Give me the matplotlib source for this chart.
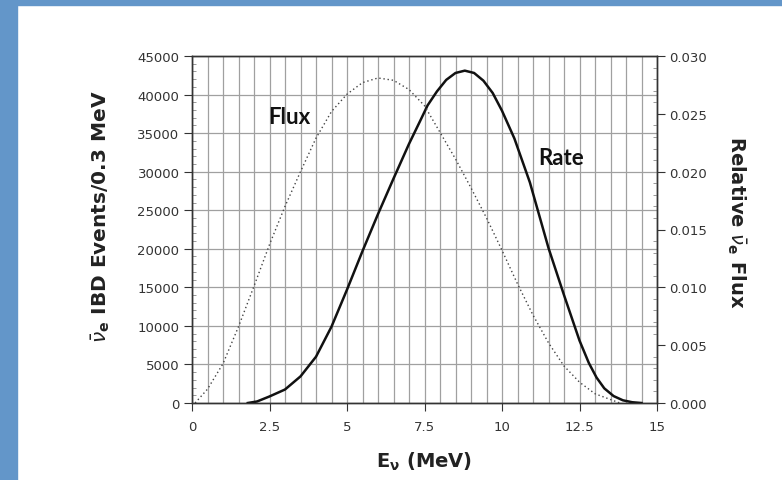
import matplotlib
matplotlib.use("Agg")
import matplotlib.pyplot as plt
from matplotlib.patches import Rectangle
from matplotlib.ticker import MultipleLocator

plt.rcParams['mathtext.fontset'] = 'dejavusans'

rate_E = [1.8, 2.1, 2.5, 3.0, 3.5, 4.0, 4.5, 5.0, 5.5, 6.0, 6.5, 7.0, 7.35, 7.6, 7.9,
          8.2, 8.5, 8.8, 9.1, 9.4, 9.7, 10.0, 10.4, 10.9, 11.5, 12.0, 12.5, 12.8,
          13.05, 13.3, 13.6, 13.9, 14.2, 14.5]
rate_val = [0, 200, 850, 1750, 3450, 6000, 9900, 14700, 19700, 24500, 29100, 33600, 36500, 38600, 40400,
            41900, 42800, 43100, 42800, 41800, 40200, 37900, 34300, 28600, 20100, 14000, 8100, 5200,
            3300, 1900, 900, 350, 100, 0]

flux_E = [0.1, 0.5, 1.0, 1.5, 2.0, 2.5, 3.0, 3.5, 4.0, 4.5, 5.0, 5.5, 6.0, 6.5, 7.0,
          7.5, 8.0, 8.5, 9.0, 9.5, 10.0, 10.5, 11.0, 11.5, 12.0, 12.5, 13.0, 13.5, 13.8]
flux_val = [0.0, 0.0012, 0.0034, 0.0066, 0.0101, 0.0137, 0.0170, 0.0200, 0.0229, 0.0252, 0.0267,
            0.0277, 0.0281, 0.0279, 0.0271, 0.0257, 0.0234, 0.0211, 0.0186, 0.0160, 0.0132,
            0.0103, 0.0076, 0.0052, 0.0032, 0.0018, 0.0008, 0.0003, 0.0]

x_ticks = [0, 2.5, 5, 7.5, 10, 12.5, 15]
x_tick_labels = ['0', '2.5', '5', '7.5', '10', '12.5', '15']
left_ticks = list(range(0, 45001, 5000))
right_ticks = [0.000, 0.005, 0.010, 0.015, 0.020, 0.025, 0.030]

fig = plt.figure(figsize=(7.82, 4.81), dpi=100)
blue = '#6396c9'
fig.patches.append(Rectangle((0, 1 - 6/481), 1, 6/481, transform=fig.transFigure, color=blue, zorder=0))
fig.patches.append(Rectangle((0, 0), 17/782, 1, transform=fig.transFigure, color=blue, zorder=0))

ax = fig.add_axes([192/782, 1 - 404/481, 465/782, 347/481])
ax2 = ax.twinx()

ax.set_xlim(0, 15)
ax.set_ylim(0, 45000)
ax2.set_ylim(0, 0.030)

ax.xaxis.set_minor_locator(MultipleLocator(0.5))
ax.set_xticks(x_ticks)
ax.set_xticklabels(x_tick_labels)
ax.set_yticks(left_ticks)
ax.set_yticklabels([str(t) for t in left_ticks])
ax.yaxis.set_minor_locator(MultipleLocator(1000))
ax2.set_yticks(right_ticks)
ax2.set_yticklabels(['%.3f' % t for t in right_ticks])
ax2.yaxis.set_minor_locator(MultipleLocator(0.001))

ax.grid(True, which='major', axis='y', color='#a0a0a0', lw=0.9)
ax.grid(True, which='both', axis='x', color='#a0a0a0', lw=0.9)
ax.set_axisbelow(True)

ax.plot(rate_E, rate_val, color='#111111', lw=1.8, zorder=3, solid_joinstyle='round')
ax2.plot(flux_E, flux_val, color='#444444', lw=1.0, ls=(0, (1, 2.0)), zorder=3)

for a in (ax, ax2):
    for s in a.spines.values():
        s.set_color('#333333')
        s.set_linewidth(1.0)
tick_col = '#333333'
ax.tick_params(axis='both', which='major', direction='out', length=6, color=tick_col,
               labelsize=9.5, labelcolor=tick_col)
ax.tick_params(axis='x', which='major', pad=6)
ax.tick_params(axis='y', which='major', pad=3)
ax.tick_params(axis='x', which='minor', direction='out', length=0)
ax.tick_params(axis='y', which='minor', direction='in', length=3, color='#888888')
ax2.tick_params(axis='y', which='major', direction='out', length=6, color=tick_col,
                labelsize=9.5, labelcolor=tick_col, pad=3)
ax2.tick_params(axis='y', which='minor', direction='in', length=3, color='#888888')

for lab in ax.get_xticklabels() + ax.get_yticklabels() + ax2.get_yticklabels():
    lab.set_family('DejaVu Sans')

ax.set_ylabel(r'$\bar{\nu}_{\mathbf{e}}$ IBD Events/0.3 MeV', fontsize=14.5, fontweight='bold', color='#222222')
ax.yaxis.set_label_coords(-0.172, 0.54)
ax2.set_ylabel(r'Relative $\bar{\nu}_{\mathbf{e}}$ Flux', fontsize=14, fontweight='bold', color='#222222',
               rotation=270)
ax2.yaxis.set_label_coords(1.195, 0.524)
ax.set_xlabel(r'E$_{\mathregular{\nu}}$ (MeV)', fontsize=14, fontweight='bold', color='#222222')
ax.xaxis.set_label_coords(0.5, -0.135)

ax.text(3.13, 37100, 'Flux', fontsize=16, fontweight='bold', family='Lato', color='#111111',
        ha='center', va='center', zorder=5)
ax.text(11.9, 31900, 'Rate', fontsize=16, fontweight='bold', family='Lato', color='#111111',
        ha='center', va='center', zorder=5)

fig.savefig('out.png', dpi=100)
